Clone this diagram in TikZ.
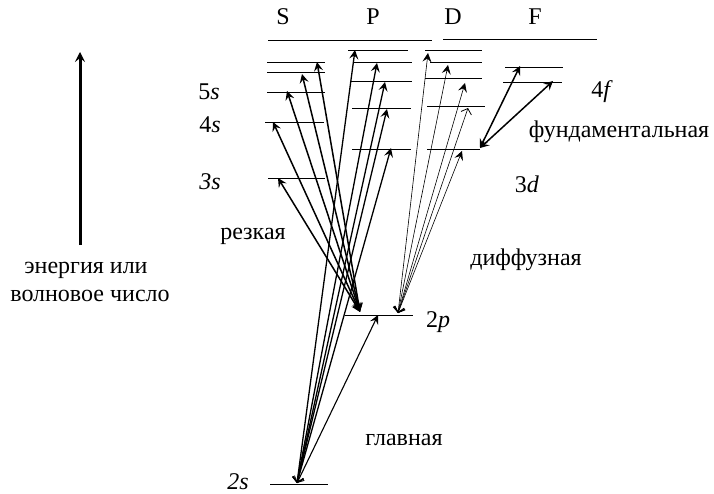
\documentclass[tikz,border=0pt]{standalone}
\usepackage{fontspec}
\setmainfont{Liberation Serif}
\usetikzlibrary{arrows.meta}
\begin{document}
\begin{tikzpicture}[x=1pt,y=-1pt,
  lvl/.style={line width=0.9pt},
  lbl/.style={inner sep=0pt,font=\fontsize{24}{27}\selectfont},
  bh/.tip={Stealth[length=9pt,width=9pt,inset=3.5pt]},
  th/.tip={Straight Barb[length=5pt,width=11pt,line width=0.8pt]},
  sarr/.style={line width=1.5pt,bh-bh},
  parr/.style={line width=1.3pt,th-bh},
  darr/.style={line width=0.6pt,th-bh},
  darrthin/.style={line width=0.6pt,th-th},
  farr/.style={line width=1.5pt,bh-bh}]
\useasboundingbox (0,0) rectangle (714,494);
% levels
\draw[lvl] (268,40) -- (432,40);
\draw[lvl] (443,39) -- (597,39);
\draw[lvl] (267,62) -- (325,62);
\draw[lvl] (267,72) -- (325,72);
\draw[lvl] (267,92) -- (325,92);
\draw[lvl] (265,122) -- (324,122);
\draw[lvl] (268,178) -- (325,178);
\draw[lvl] (348,50) -- (408,50);
\draw[lvl] (353,62) -- (412,62);
\draw[lvl] (350,81) -- (412,81);
\draw[lvl] (352,108) -- (411,108);
\draw[lvl] (352,149) -- (411,149);
\draw[lvl] (425,50) -- (482,50);
\draw[lvl] (430,62) -- (482,62);
\draw[lvl] (425,78) -- (482,78);
\draw[lvl] (427,106) -- (485,106);
\draw[lvl] (427,149) -- (480,149);
\draw[lvl] (505,67) -- (563,67);
\draw[lvl] (503,82) -- (562,82);
\draw[lvl] (345,315) -- (413,315);
\draw[lvl] (270,484) -- (328,484);
% endpoints
\coordinate (p2) at (360,312);
\coordinate (s2) at (297,483);
\coordinate (d2) at (398,313);
\coordinate (f3) at (480,148);
\coordinate (s3) at (278,178);
\coordinate (s4) at (273,122);
\coordinate (s5) at (287,91);
\coordinate (s6) at (302,74);
\coordinate (s7) at (317,62);
\coordinate (pp2) at (378,315);
\coordinate (pp3) at (391,148);
\coordinate (pp4) at (387,109);
\coordinate (pp5) at (385,82);
\coordinate (pp6) at (377,63);
\coordinate (pp7) at (355,50);
\coordinate (d3) at (462,151);
\coordinate (d4) at (468,108);
\coordinate (d5) at (465,83);
\coordinate (d6) at (448,65);
\coordinate (d7) at (428,53);
\coordinate (f4) at (520,66);
\coordinate (f5) at (553,81);
\coordinate (ea) at (80,245);
\coordinate (eb) at (80,52);
% sharp series
\foreach \t in {s3,s4,s5,s6,s7} \draw[sarr] (p2) -- (\t);
% principal series
\foreach \t in {pp3,pp4,pp5,pp6,pp7} \draw[parr] (s2) -- (\t);
\draw[parr,line width=1.1pt] (s2) -- (pp2);
% diffuse series
\foreach \t in {d3,d5,d6,d7} \draw[darr] (d2) -- (\t);
\draw[darrthin] (d2) -- (d4);
% fundamental series
\draw[farr] (f3) -- (f4);
\draw[farr] (f3) -- (f5);
% energy axis
\draw[line width=3pt,-{Stealth[length=10pt,width=10pt,inset=4pt]}] (ea) -- (eb);
% labels
\node[lbl] (lS) at (283,17) {S};
\node[lbl] (lP) at (373,17) {P};
\node[lbl] (lD) at (453,17) {D};
\node[lbl] (lF) at (535,17) {F};
\node[lbl] (l5s) at (209,92) {5\textit{s}};
\node[lbl] (l4s) at (210,125) {4\textit{s}};
\node[lbl] (l3s) at (210,182) {\textit{3s}};
\node[lbl] (l4f) at (602,92) {4\textit{f}};
\node[lbl] (l3d) at (527,184) {3\textit{d}};
\node[lbl] (l2p) at (438,322) {2\textit{p}};
\node[lbl] (l2s) at (238,482) {\textit{2s}};
\node[lbl] (lfund) at (619,132) {фундаментальная};
\node[lbl] (lrez) at (253,236) {резкая};
\node[lbl] (ldif) at (526,260) {диффузная};
\node[lbl] (lglav) at (404,440) {главная};
\node[lbl] (len1) at (86,270) {энергия или};
\node[lbl] (len2) at (90,296) {волновое число};
\end{tikzpicture}
\end{document}
